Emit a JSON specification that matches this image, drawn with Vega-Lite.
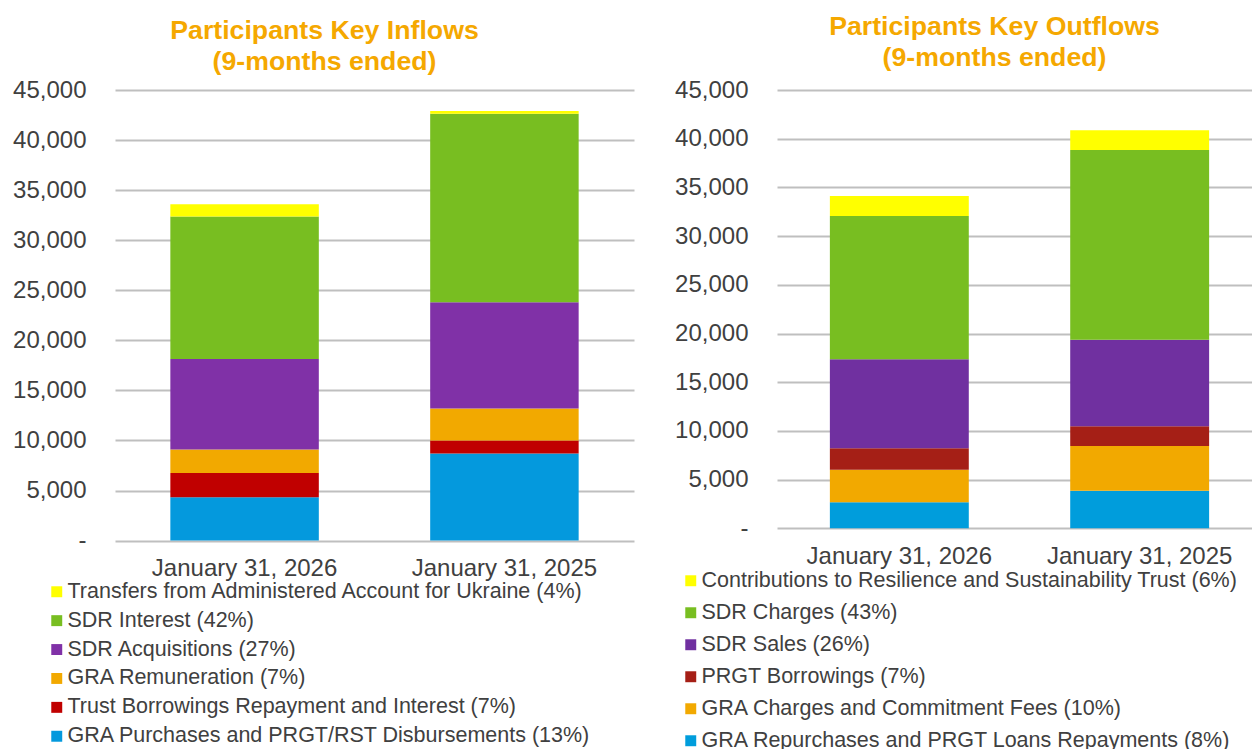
{
  "$schema": "https://vega.github.io/schema/vega-lite/v6.json",
  "padding": {"left": 12, "top": 14, "right": 0, "bottom": 0},
  "config": {"font": "Liberation Sans", "view": {"stroke": null}},
  "datasets": {
    "inflows": [
      {"period": "January 31, 2026", "category": "GRA Purchases and PRGT/RST Disbursements (13%)", "value": 4340},
      {"period": "January 31, 2026", "category": "Trust Borrowings Repayment and Interest (7%)", "value": 2400},
      {"period": "January 31, 2026", "category": "GRA Remuneration (7%)", "value": 2360},
      {"period": "January 31, 2026", "category": "SDR Acquisitions (27%)", "value": 9040},
      {"period": "January 31, 2026", "category": "SDR Interest (42%)", "value": 14230},
      {"period": "January 31, 2026", "category": "Transfers from Administered Account for Ukraine (4%)", "value": 1230},
      {"period": "January 31, 2025", "category": "GRA Purchases and PRGT/RST Disbursements (13%)", "value": 8700},
      {"period": "January 31, 2025", "category": "Trust Borrowings Repayment and Interest (7%)", "value": 1300},
      {"period": "January 31, 2025", "category": "GRA Remuneration (7%)", "value": 3200},
      {"period": "January 31, 2025", "category": "SDR Acquisitions (27%)", "value": 10600},
      {"period": "January 31, 2025", "category": "SDR Interest (42%)", "value": 18840},
      {"period": "January 31, 2025", "category": "Transfers from Administered Account for Ukraine (4%)", "value": 260}
    ],
    "outflows": [
      {"period": "January 31, 2026", "category": "GRA Repurchases and PRGT Loans Repayments (8%)", "value": 2670},
      {"period": "January 31, 2026", "category": "GRA Charges and Commitment Fees (10%)", "value": 3350},
      {"period": "January 31, 2026", "category": "PRGT Borrowings (7%)", "value": 2190},
      {"period": "January 31, 2026", "category": "SDR Sales (26%)", "value": 9140},
      {"period": "January 31, 2026", "category": "SDR Charges (43%)", "value": 14710},
      {"period": "January 31, 2026", "category": "Contributions to Resilience and Sustainability Trust (6%)", "value": 2060},
      {"period": "January 31, 2025", "category": "GRA Repurchases and PRGT Loans Repayments (8%)", "value": 3860},
      {"period": "January 31, 2025", "category": "GRA Charges and Commitment Fees (10%)", "value": 4590},
      {"period": "January 31, 2025", "category": "PRGT Borrowings (7%)", "value": 2020},
      {"period": "January 31, 2025", "category": "SDR Sales (26%)", "value": 8890},
      {"period": "January 31, 2025", "category": "SDR Charges (43%)", "value": 19480},
      {"period": "January 31, 2025", "category": "Contributions to Resilience and Sustainability Trust (6%)", "value": 2020}
    ]
  },
  "bounds": "flush",
  "spacing": 143,
  "resolve": {
    "scale": {"color": "independent", "x": "independent", "y": "independent"},
    "legend": {"color": "independent"},
    "axis": {"x": "independent", "y": "independent"}
  },
  "hconcat": [
    {
      "width": 519,
      "height": 450.6,
      "title": {
        "text": ["Participants Key Inflows", "(9-months ended)"],
        "anchor": "middle",
        "frame": "group",
        "dx": -50,
        "offset": 2,
        "fontSize": 26.7,
        "lineHeight": 31,
        "fontWeight": "bold",
        "color": "#F5A800"
      },
      "data": {"name": "inflows"},
      "transform": [
        {"calculate": "indexof(['GRA Purchases and PRGT/RST Disbursements (13%)','Trust Borrowings Repayment and Interest (7%)','GRA Remuneration (7%)','SDR Acquisitions (27%)','SDR Interest (42%)','Transfers from Administered Account for Ukraine (4%)'], datum.category)", "as": "rank"}
      ],
      "mark": {"type": "bar"},
      "encoding": {
        "x": {
          "field": "period", "type": "nominal", "sort": null,
          "scale": {"paddingInner": 0.4286, "paddingOuter": 0.213},
          "axis": {"title": null, "labelAngle": 0, "labelFontSize": 24, "labelColor": "#404040", "labelLimit": 400, "ticks": false, "tickSize": 0, "domain": false, "labelPadding": 16, "labelBaseline": "top"}
        },
        "y": {
          "field": "value", "type": "quantitative",
          "scale": {"domain": [0, 45000], "nice": false},
          "axis": {
            "title": null, "values": [0, 5000, 10000, 15000, 20000, 25000, 30000, 35000, 40000, 45000],
            "labelExpr": "datum.value == 0 ? '-\u00a0\u00a0' : format(datum.value, ',')",
            "labelFontSize": 24, "labelColor": "#404040", "grid": true, "gridColor": "#BFBFBF", "gridWidth": 2,
            "domain": false, "ticks": false, "tickSize": 0, "labelPadding": 29
          }
        },
        "color": {
          "field": "category", "type": "nominal",
          "sort": ["Transfers from Administered Account for Ukraine (4%)", "SDR Interest (42%)", "SDR Acquisitions (27%)", "GRA Remuneration (7%)", "Trust Borrowings Repayment and Interest (7%)", "GRA Purchases and PRGT/RST Disbursements (13%)"],
          "scale": {
            "domain": ["Transfers from Administered Account for Ukraine (4%)", "SDR Interest (42%)", "SDR Acquisitions (27%)", "GRA Remuneration (7%)", "Trust Borrowings Repayment and Interest (7%)", "GRA Purchases and PRGT/RST Disbursements (13%)"],
            "range": ["#FFFF00", "#78BE21", "#8031A7", "#F2A900", "#C00000", "#0499DD"]
          },
          "legend": {
            "orient": "none", "legendX": -69, "legendY": 491, "title": null, "padding": 0,
            "labelFontSize": 21.5, "labelColor": "#404040", "labelLimit": 900, "labelOffset": 0,
            "symbolType": "square", "symbolSize": 120, "symbolStrokeWidth": 0, "rowPadding": 5.9, "direction": "vertical"
          }
        },
        "order": {"field": "rank", "type": "quantitative"}
      }
    },
    {
      "width": 485,
      "height": 438.3,
      "title": {
        "text": ["Participants Key Outflows", "(9-months ended)"],
        "anchor": "middle",
        "frame": "group",
        "dx": -25,
        "offset": 6,
        "fontSize": 26.7,
        "lineHeight": 31,
        "fontWeight": "bold",
        "color": "#F5A800"
      },
      "data": {"name": "outflows"},
      "transform": [
        {"calculate": "indexof(['GRA Repurchases and PRGT Loans Repayments (8%)','GRA Charges and Commitment Fees (10%)','PRGT Borrowings (7%)','SDR Sales (26%)','SDR Charges (43%)','Contributions to Resilience and Sustainability Trust (6%)'], datum.category)", "as": "rank"}
      ],
      "mark": {"type": "bar"},
      "encoding": {
        "x": {
          "field": "period", "type": "nominal", "sort": null,
          "scale": {"paddingInner": 0.422, "paddingOuter": 0.22},
          "axis": {"title": null, "labelAngle": 0, "labelFontSize": 24, "labelColor": "#404040", "labelLimit": 400, "ticks": false, "tickSize": 0, "domain": false, "labelPadding": 16, "labelBaseline": "top"}
        },
        "y": {
          "field": "value", "type": "quantitative",
          "scale": {"domain": [0, 45000], "nice": false},
          "axis": {
            "title": null, "values": [0, 5000, 10000, 15000, 20000, 25000, 30000, 35000, 40000, 45000],
            "labelExpr": "datum.value == 0 ? '-\u00a0\u00a0' : format(datum.value, ',')",
            "labelFontSize": 24, "labelColor": "#404040", "grid": true, "gridColor": "#BFBFBF", "gridWidth": 2,
            "domain": false, "ticks": false, "tickSize": 0, "labelPadding": 29
          }
        },
        "color": {
          "field": "category", "type": "nominal",
          "sort": ["Contributions to Resilience and Sustainability Trust (6%)", "SDR Charges (43%)", "SDR Sales (26%)", "PRGT Borrowings (7%)", "GRA Charges and Commitment Fees (10%)", "GRA Repurchases and PRGT Loans Repayments (8%)"],
          "scale": {
            "domain": ["Contributions to Resilience and Sustainability Trust (6%)", "SDR Charges (43%)", "SDR Sales (26%)", "PRGT Borrowings (7%)", "GRA Charges and Commitment Fees (10%)", "GRA Repurchases and PRGT Loans Repayments (8%)"],
            "range": ["#FFFF00", "#78BE21", "#7030A0", "#A51F16", "#F2A900", "#009DDC"]
          },
          "legend": {
            "orient": "none", "legendX": -97, "legendY": 480, "title": null, "padding": 0,
            "labelFontSize": 21.5, "labelColor": "#404040", "labelLimit": 900, "labelOffset": 0,
            "symbolType": "square", "symbolSize": 120, "symbolStrokeWidth": 0, "rowPadding": 9, "direction": "vertical"
          }
        },
        "order": {"field": "rank", "type": "quantitative"}
      }
    }
  ]
}
